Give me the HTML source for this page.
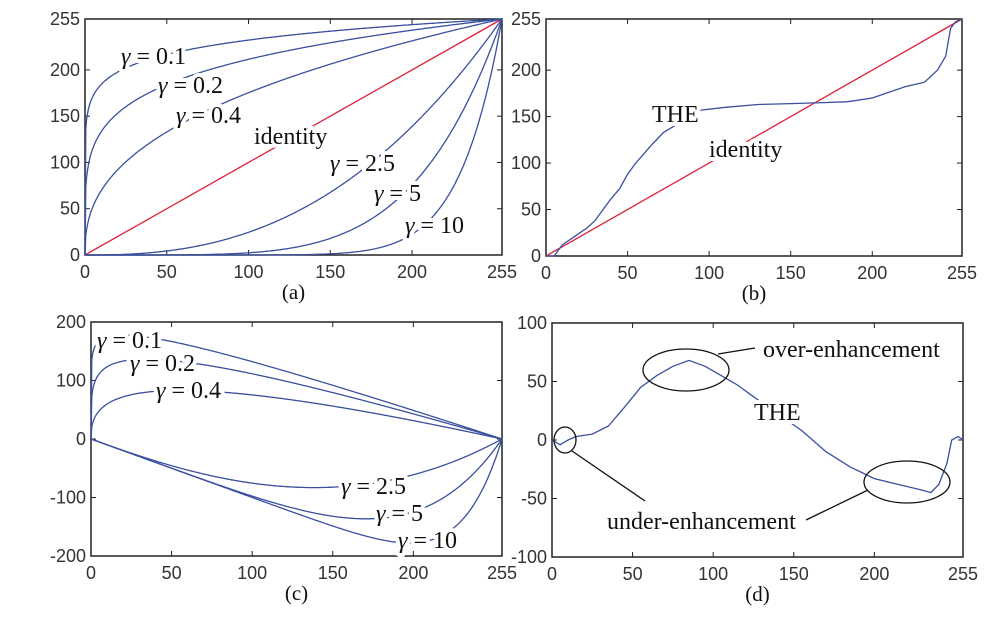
<!DOCTYPE html>
<html><head><meta charset="utf-8"><style>
html,body{margin:0;padding:0;background:#fff;}
svg{display:block;}
.tick{font-family:"Liberation Sans",sans-serif;font-size:18px;fill:#333;}
.ann{font-family:"Liberation Serif",serif;font-size:24px;fill:#111;paint-order:stroke;stroke:#fff;stroke-width:8px;stroke-linejoin:round;}
.cap{font-family:"Liberation Serif",serif;font-size:21px;fill:#111;}
</style></head><body>
<svg id="fig" width="998" height="624" viewBox="0 0 998 624"></svg>
<script>
const gammas=[0.1,0.2,0.4,2.5,5,10];
const xTicksA=[0,50,100,150,200,255];
const yTicksA=[0,50,100,150,200,255];
const yTicksC=[-200,-100,0,100,200];
const yTicksD=[-100,-50,0,50,100];
const theX=[0,5,10,15,20,25,30,35,40,45,50,55,60,65,72,95,110,130,150,170,185,200,210,220,232,240,245,248,251,255];
const theY=[0,0,12,18,24,30,38,50,62,72,88,100,110,120,133,157,160,163,164,165,166,170,176,182,187,200,215,245,252,255];
const diffX=[0,5,10,15,25,35,45,55,65,75,85,95,105,115,125,155,170,185,200,215,230,235,240,245,248,252,255];
const diffY=[0,-4,0,3,5,12,28,45,55,63,68,63,55,47,37,8,-10,-23,-33,-38,-43,-45,-38,-20,0,3,0];
const NS="http://www.w3.org/2000/svg";
const svg=document.getElementById('fig');
function el(tag,attrs,parent){const e=document.createElementNS(NS,tag);for(const k in attrs)e.setAttribute(k,attrs[k]);(parent||svg).appendChild(e);return e;}
function panel(name,L,R,T,B,ymin,ymax,yt,cap){
  const g=el('g',{});
  
  
  const sx=v=>L+(v/255)*(R-L), sy=v=>B-(v-ymin)/(ymax-ymin)*(B-T);
  const frame=el('rect',{x:L,y:T,width:R-L,height:B-T,fill:'none',stroke:'#222','stroke-width':1.5},g);
  
  
  xTicksA.forEach(v=>{
    el('line',{x1:sx(v),x2:sx(v),y1:B,y2:B-5,stroke:'#222'},g);
    el('line',{x1:sx(v),x2:sx(v),y1:T,y2:T+5,stroke:'#222'},g);
    const t=el('text',{x:sx(v),y:B+23,'text-anchor':'middle',class:'tick'},g);t.textContent=v;
    
    
  });
  yt.forEach(v=>{
    el('line',{x1:L,x2:L+5,y1:sy(v),y2:sy(v),stroke:'#222'},g);
    el('line',{x1:R,x2:R-5,y1:sy(v),y2:sy(v),stroke:'#222'},g);
    const t=el('text',{x:L-5,y:sy(v)+6,'text-anchor':'end',class:'tick'},g);t.textContent=v;
    
    
  });
  const c=el('text',{x:(L+R)/2,y:B+44,'text-anchor':'middle',class:'cap'},g);c.textContent=cap;
  
  
  return {g,sx,sy};
}
function line(p,xs,ys,color,name){
  const d=xs.map((x,i)=>(i?'L':'M')+p.sx(x).toFixed(1)+','+p.sy(ys[i]).toFixed(1)).join('');
  const e=el('path',{d,fill:'none',stroke:color,'stroke-width':1.3},p.g);
  
  
}
function label(p,x,y,txt,name,gamma){
  const t=el('text',{x,y,class:'ann'},p.g);
  if(gamma){const s=el('tspan',{'font-style':'italic'},t);s.textContent='γ';const r=el('tspan',{},t);r.textContent=' = '+txt;}
  else t.textContent=txt;
  
  
}
const xs=[];for(let i=0;i<=255;i+=0.5)xs.push(i);
// (a)
const a=panel('panel-a-gamma-curves',85,502,19,255,0,255,yTicksA,'(a)');
line(a,[0,255],[0,255],'#e0203a','identity-line');
gammas.forEach(gm=>line(a,xs,xs.map(x=>255*Math.pow(x/255,gm)),'#3a4fa0','gamma-curve-'+gm));
label(a,121,64,'0.1','label-gamma-0.1',true);
label(a,158,93,'0.2','label-gamma-0.2',true);
label(a,176,123,'0.4','label-gamma-0.4',true);
label(a,254,144,'identity','label-identity');
label(a,330,171,'2.5','label-gamma-2.5',true);
label(a,374,201,'5','label-gamma-5',true);
label(a,405,233,'10','label-gamma-10',true);
// (b)
const b=panel('panel-b-the-curve',546,962,19,256,0,255,yTicksA,'(b)');
line(b,[0,255],[0,255],'#e0203a','identity-line');
line(b,theX,theY,'#3a4fa0','the-curve');
label(b,652,122,'THE','label-the');
label(b,709,157,'identity','label-identity');
// (c)
const c=panel('panel-c-gamma-differences',91,502,322,556,-200,200,yTicksC,'(c)');
gammas.forEach(gm=>line(c,xs,xs.map(x=>255*Math.pow(x/255,gm)-x),'#3a4fa0','gamma-diff-'+gm));
label(c,97,348,'0.1','label-gamma-0.1',true);
label(c,130,371,'0.2','label-gamma-0.2',true);
label(c,156,398,'0.4','label-gamma-0.4',true);
label(c,341,494,'2.5','label-gamma-2.5',true);
label(c,376,521,'5','label-gamma-5',true);
label(c,398,548,'10','label-gamma-10',true);
// (d)
const d=panel('panel-d-the-difference',552,963,323,557,-100,100,yTicksD,'(d)');
line(d,diffX,diffY,'#3a4fa0','the-diff-curve');
label(d,754,420,'THE','label-the');
el('ellipse',{cx:686,cy:370,rx:43,ry:21,fill:'none',stroke:'#111','stroke-width':1.3},d.g);
el('ellipse',{cx:565,cy:440,rx:11,ry:13,fill:'none',stroke:'#111','stroke-width':1.3},d.g);
el('ellipse',{cx:907,cy:482,rx:43,ry:21,fill:'none',stroke:'#111','stroke-width':1.3},d.g);
el('line',{x1:718,y1:354,x2:755,y2:348,stroke:'#111','stroke-width':1.3},d.g);
el('line',{x1:572,y1:451,x2:645,y2:501,stroke:'#111','stroke-width':1.3},d.g);
el('line',{x1:868,y1:490,x2:806,y2:520,stroke:'#111','stroke-width':1.3},d.g);
label(d,763,357,'over-enhancement','label-over-enhancement');
label(d,607,529,'under-enhancement','label-under-enhancement');
</script>
</body></html>
